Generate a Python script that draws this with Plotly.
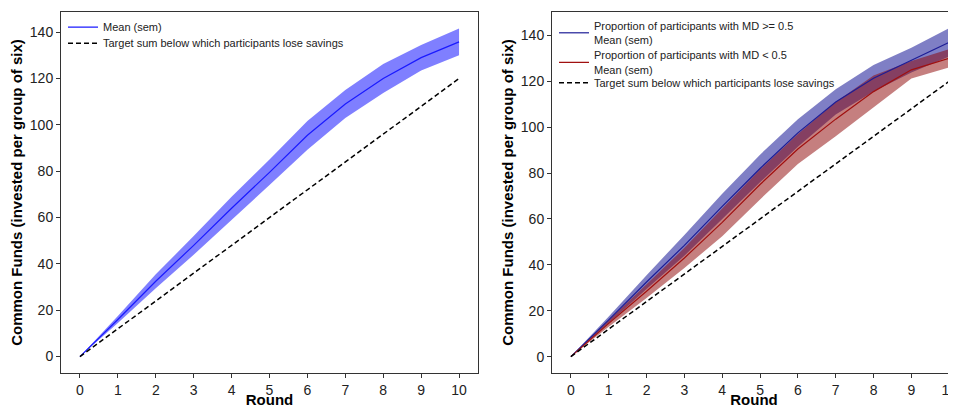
import plotly.graph_objects as go

rounds = [0, 1, 2, 3, 4, 5, 6, 7, 8, 9, 10]
target = [0, 12, 24, 36, 48, 60, 72, 84, 96, 108, 120]

# Left panel: all participants
mean_all = [0, 16.0, 32.5, 48.0, 64.0, 79.5, 95.5, 109.0, 120.0, 129.0, 135.8]
sem_all = [0, 1.5, 3.0, 4.0, 5.0, 5.5, 6.2, 6.0, 6.3, 5.5, 5.8]

# Right panel: split by MD
mean_hi = [0, 16.0, 32.5, 48.5, 65.5, 82.0, 97.5, 111.0, 121.3, 129.2, 137.0]
sem_hi = [0, 1.5, 3.0, 4.5, 5.5, 6.0, 6.0, 5.5, 5.8, 5.4, 6.2]
mean_lo = [0, 14.5, 28.5, 43.0, 58.5, 75.0, 90.5, 103.5, 115.5, 125.0, 130.0]
sem_lo = [0, 1.5, 3.0, 4.4, 6.0, 6.5, 6.5, 7.5, 7.0, 3.8, 4.0]

name_all = "Mean (sem)"
name_hi = "Proportion of participants with MD >= 0.5<br>Mean (sem)"
name_lo = "Proportion of participants with MD < 0.5<br>Mean (sem)"
name_target = "Target sum below which participants lose savings"

FONT = "Liberation Sans, Arial, sans-serif"
W, H = 948, 400


def band(x, m, s):
    up = [a + b for a, b in zip(m, s)]
    lo = [a - b for a, b in zip(m, s)]
    return list(x) + list(x)[::-1], up + lo[::-1]


fig = go.Figure()

# ---- left panel ----
bx, by = band(rounds, mean_all, sem_all)
fig.add_trace(go.Scatter(x=bx, y=by, fill="toself", fillcolor="rgba(0,0,255,0.5)",
                         line=dict(width=0), mode="lines", showlegend=False,
                         hoverinfo="skip", xaxis="x", yaxis="y"))
fig.add_trace(go.Scatter(x=rounds, y=mean_all, mode="lines", name=name_all,
                         line=dict(color="#1a1aff", width=1.2), xaxis="x", yaxis="y",
                         legend="legend"))
fig.add_trace(go.Scatter(x=rounds, y=target, mode="lines", name=name_target,
                         line=dict(color="black", width=1.5, dash="5px,3px"),
                         xaxis="x", yaxis="y", legend="legend3"))

# ---- right panel ----
bx, by = band(rounds, mean_hi, sem_hi)
fig.add_trace(go.Scatter(x=bx, y=by, fill="toself", fillcolor="rgba(0,0,139,0.5)",
                         line=dict(width=0), mode="lines", showlegend=False,
                         hoverinfo="skip", xaxis="x2", yaxis="y2"))
bx, by = band(rounds, mean_lo, sem_lo)
fig.add_trace(go.Scatter(x=bx, y=by, fill="toself", fillcolor="rgba(139,0,0,0.5)",
                         line=dict(width=0), mode="lines", showlegend=False,
                         hoverinfo="skip", xaxis="x2", yaxis="y2"))
fig.add_trace(go.Scatter(x=rounds, y=mean_hi, mode="lines", name=name_hi,
                         line=dict(color="#1c1c96", width=1.2), xaxis="x2", yaxis="y2",
                         legend="legend2"))
fig.add_trace(go.Scatter(x=rounds, y=mean_lo, mode="lines", name=name_lo,
                         line=dict(color="#a01010", width=1.2), xaxis="x2", yaxis="y2",
                         legend="legend4"))
fig.add_trace(go.Scatter(x=rounds, y=target, mode="lines", name=name_target,
                         line=dict(color="black", width=1.5, dash="5px,3px"),
                         xaxis="x2", yaxis="y2", legend="legend5"))

axis_common = dict(
    showgrid=False, zeroline=False, showline=True, linecolor="#333", linewidth=1,
    ticks="outside", ticklen=4, tickwidth=1, tickcolor="#333",
    tickfont=dict(family=FONT, size=14, color="#222"), automargin=False,
    ticklabeloverflow="allow",
)
title_font = dict(family=FONT, size=15, color="black")

ytop = 1 - 4 / H
ybot = 1 - 365 / H


def leg(xpx, toppx):
    return dict(x=xpx / W, y=1 - toppx / H, xanchor="left", yanchor="top",
                bgcolor="rgba(0,0,0,0)", font=dict(family=FONT, size=11, color="#222"),
                itemwidth=30, tracegroupgap=0)


fig.update_layout(
    width=W, height=H, margin=dict(l=0, r=0, t=0, b=0),
    paper_bgcolor="white", plot_bgcolor="white",
    font=dict(family=FONT),
    xaxis=dict(axis_common, domain=[53 / W, 470 / W], range=[-0.5, 10.5], dtick=1,
               tick0=0, mirror=True, anchor="y",
               title=dict(text="<b>Round</b>", font=title_font, standoff=3)),
    yaxis=dict(axis_common, domain=[ybot, ytop], range=[-7.08, 148.7], dtick=20,
               tick0=0, mirror=True, anchor="x",
               title=dict(text="<b>Common Funds (invested per group of six)</b>",
                          font=title_font, standoff=3)),
    xaxis2=dict(axis_common, domain=[544 / W, 1.0], range=[-0.5, 10.18], dtick=1,
                tick0=0, mirror=True, anchor="y2",
                title=dict(text="<b>Round</b>", font=title_font, standoff=3)),
    yaxis2=dict(axis_common, domain=[ybot, ytop], range=[-7.15, 150.2], dtick=20,
                tick0=0, mirror=False, anchor="x2",
                title=dict(text="<b>Common Funds (invested per group of six)</b>",
                           font=title_font, standoff=3)),
    legend=leg(55, 4.7),
    legend3=leg(55, 20.7),
    legend2=leg(546, 4),
    legend4=leg(546, 33.5),
    legend5=leg(546, 60.3),
)

fig.write_html("out.html")
